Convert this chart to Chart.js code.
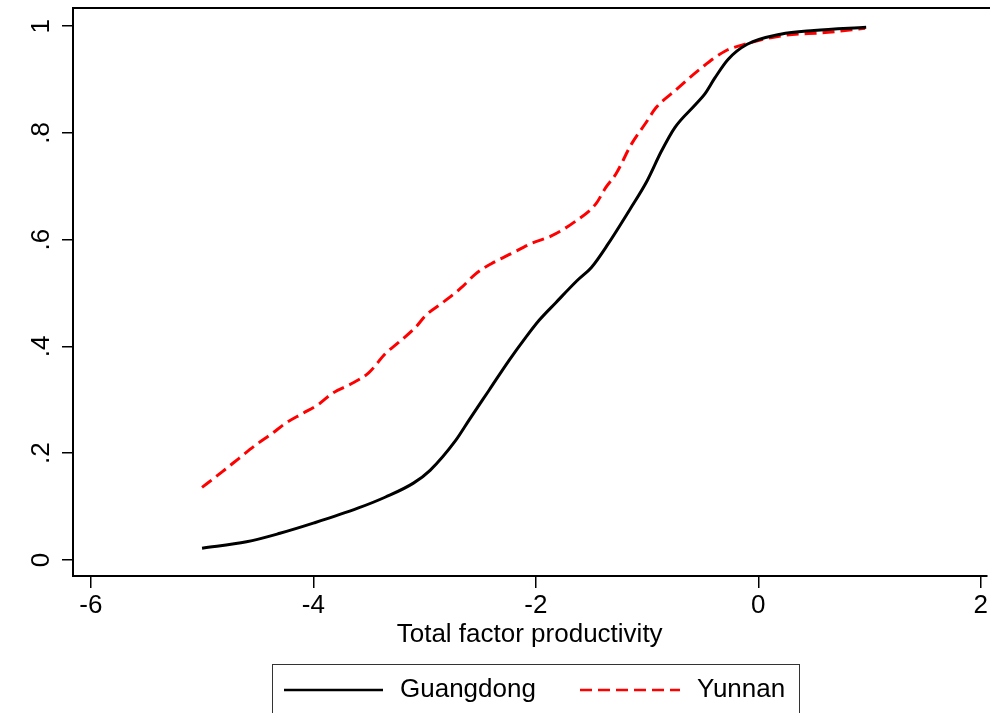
<!DOCTYPE html>
<html>
<head>
<meta charset="utf-8">
<script src="https://cdn.jsdelivr.net/npm/chart.js@4/dist/chart.umd.min.js"></script>
<style>
  html, body { margin: 0; padding: 0; background: #fff; }
  #wrap { position: relative; width: 990px; height: 713px; }
</style>
</head>
<body>
<div id="wrap"><canvas id="c" width="990" height="713"></canvas></div>
<script>
// ---- Data ----
const seriesNames = ["Guangdong", "Yunnan"];
const guangdongX = [-5.0, -4.6, -4.3, -4.0, -3.6, -3.35, -3.1, -2.95, -2.72, -2.6, -2.42, -2.24, -2.09, -1.97, -1.82, -1.63, -1.5, -1.35, -1.15, -1.0, -0.87, -0.75, -0.56, -0.48, -0.39, -0.27, -0.1, 0.2, 0.5, 0.97];
const guangdongY = [0.022, 0.034, 0.050, 0.069, 0.097, 0.118, 0.144, 0.168, 0.224, 0.262, 0.318, 0.374, 0.417, 0.449, 0.482, 0.523, 0.548, 0.592, 0.658, 0.71, 0.766, 0.81, 0.854, 0.873, 0.903, 0.938, 0.966, 0.985, 0.992, 0.998];
const yunnanX = [-5.0, -4.82, -4.67, -4.52, -4.37, -4.25, -4.1, -3.95, -3.83, -3.65, -3.5, -3.35, -3.23, -3.08, -2.99, -2.85, -2.67, -2.54, -2.4, -2.22, -2.04, -1.86, -1.64, -1.46, -1.37, -1.28, -1.14, -1.01, -0.92, -0.75, -0.51, -0.3, -0.09, 0.21, 0.6, 0.96];
const yunnanY = [0.136, 0.165, 0.19, 0.215, 0.237, 0.256, 0.274, 0.292, 0.312, 0.331, 0.351, 0.387, 0.408, 0.436, 0.458, 0.48, 0.51, 0.536, 0.555, 0.574, 0.593, 0.607, 0.635, 0.667, 0.698, 0.723, 0.779, 0.819, 0.847, 0.879, 0.922, 0.953, 0.968, 0.982, 0.988, 0.996];
const xTickValues = [-6, -4, -2, 0, 2];
const xTickLabels = ["-6", "-4", "-2", "0", "2"];
const yTickValues = [0, 0.2, 0.4, 0.6, 0.8, 1];
const yTickLabels = ["0", ".2", ".4", ".6", ".8", "1"];
const xTitle = "Total factor productivity";

const FONT = "'Liberation Sans', Arial, sans-serif";
const FS = 26;

const toPts = (xs, ys) => xs.map((x, i) => ({ x: x, y: ys[i] }));

// Top frame line + rotated y labels + legend
const extras = {
  id: 'extras',
  afterDraw(chart) {
    const ctx = chart.ctx;
    const a = chart.chartArea;
    ctx.save();
    ctx.strokeStyle = '#000';
    ctx.lineWidth = 2;
    ctx.beginPath();
    ctx.moveTo(a.left, a.top);
    ctx.lineTo(990, a.top);
    ctx.stroke();
    // y tick labels rotated
    const ys = chart.scales.y;
    ctx.fillStyle = '#000';
    ctx.font = FS + 'px ' + FONT;
    ctx.textAlign = 'center';
    ctx.textBaseline = 'middle';
    yTickValues.forEach((v, i) => {
      const py = ys.getPixelForValue(v);
      ctx.save();
      ctx.translate(42, py);
      ctx.rotate(-Math.PI / 2);
      ctx.fillText(yTickLabels[i], 0, 0);
      ctx.restore();
    });
    // legend
    ctx.lineWidth = 1;
    ctx.strokeStyle = '#333';
    ctx.strokeRect(272.5, 664.5, 527, 60);
    const ly = 690;
    ctx.lineWidth = 2.5;
    ctx.strokeStyle = '#000';
    ctx.setLineDash([]);
    ctx.beginPath(); ctx.moveTo(284, ly); ctx.lineTo(383, ly); ctx.stroke();
    ctx.strokeStyle = '#ff0000';
    ctx.setLineDash([12, 6]);
    ctx.beginPath(); ctx.moveTo(580, ly); ctx.lineTo(680, ly); ctx.stroke();
    ctx.setLineDash([]);
    ctx.fillStyle = '#000';
    ctx.textAlign = 'left';
    ctx.fillText(seriesNames[0], 400, ly);
    ctx.fillText(seriesNames[1], 697, ly);
    ctx.restore();
  }
};

new Chart(document.getElementById('c'), {
  type: 'line',
  data: {
    datasets: [
      {
        label: seriesNames[0],
        data: toPts(guangdongX, guangdongY),
        borderColor: '#000',
        borderWidth: 3,
        pointRadius: 0,
        cubicInterpolationMode: 'monotone',
        fill: false
      },
      {
        label: seriesNames[1],
        data: toPts(yunnanX, yunnanY),
        borderColor: '#ff0000',
        borderWidth: 3,
        borderDash: [12, 6],
        pointRadius: 0,
        cubicInterpolationMode: 'monotone',
        fill: false
      }
    ]
  },
  options: {
    responsive: false,
    animation: false,
    devicePixelRatio: 1,
    layout: { padding: { left: 0, right: 1, top: 8, bottom: 63 } },
    plugins: { legend: { display: false }, tooltip: { enabled: false } },
    scales: {
      x: {
        type: 'linear',
        min: -6.16,
        max: 2.05,
        afterBuildTicks(s) { s.ticks = xTickValues.map(v => ({ value: v })); },
        afterFit(s) { s.height = 74; },
        border: { display: true, color: '#000', width: 2 },
        grid: { drawOnChartArea: false, drawTicks: true, tickLength: 12, color: '#000', lineWidth: 1.5 },
        ticks: {
          color: '#000',
          font: { family: FONT, size: FS },
          padding: 2,
          maxRotation: 0,
          autoSkip: false,
          callback(v) { const i = xTickValues.indexOf(v); return i >= 0 ? xTickLabels[i] : ''; }
        },
        title: {
          display: true,
          text: xTitle,
          color: '#000',
          font: { family: FONT, size: FS },
          padding: { top: 0, bottom: 0 }
        }
      },
      y: {
        type: 'linear',
        min: -0.03,
        max: 1.034,
        afterBuildTicks(s) { s.ticks = yTickValues.map(v => ({ value: v })); },
        afterFit(s) { s.width = 73; },
        border: { display: true, color: '#000', width: 2 },
        grid: { drawOnChartArea: false, drawTicks: true, tickLength: 11, color: '#000', lineWidth: 1.5 },
        ticks: { display: false }
      }
    }
  },
  plugins: [extras]
});
</script>
</body>
</html>
